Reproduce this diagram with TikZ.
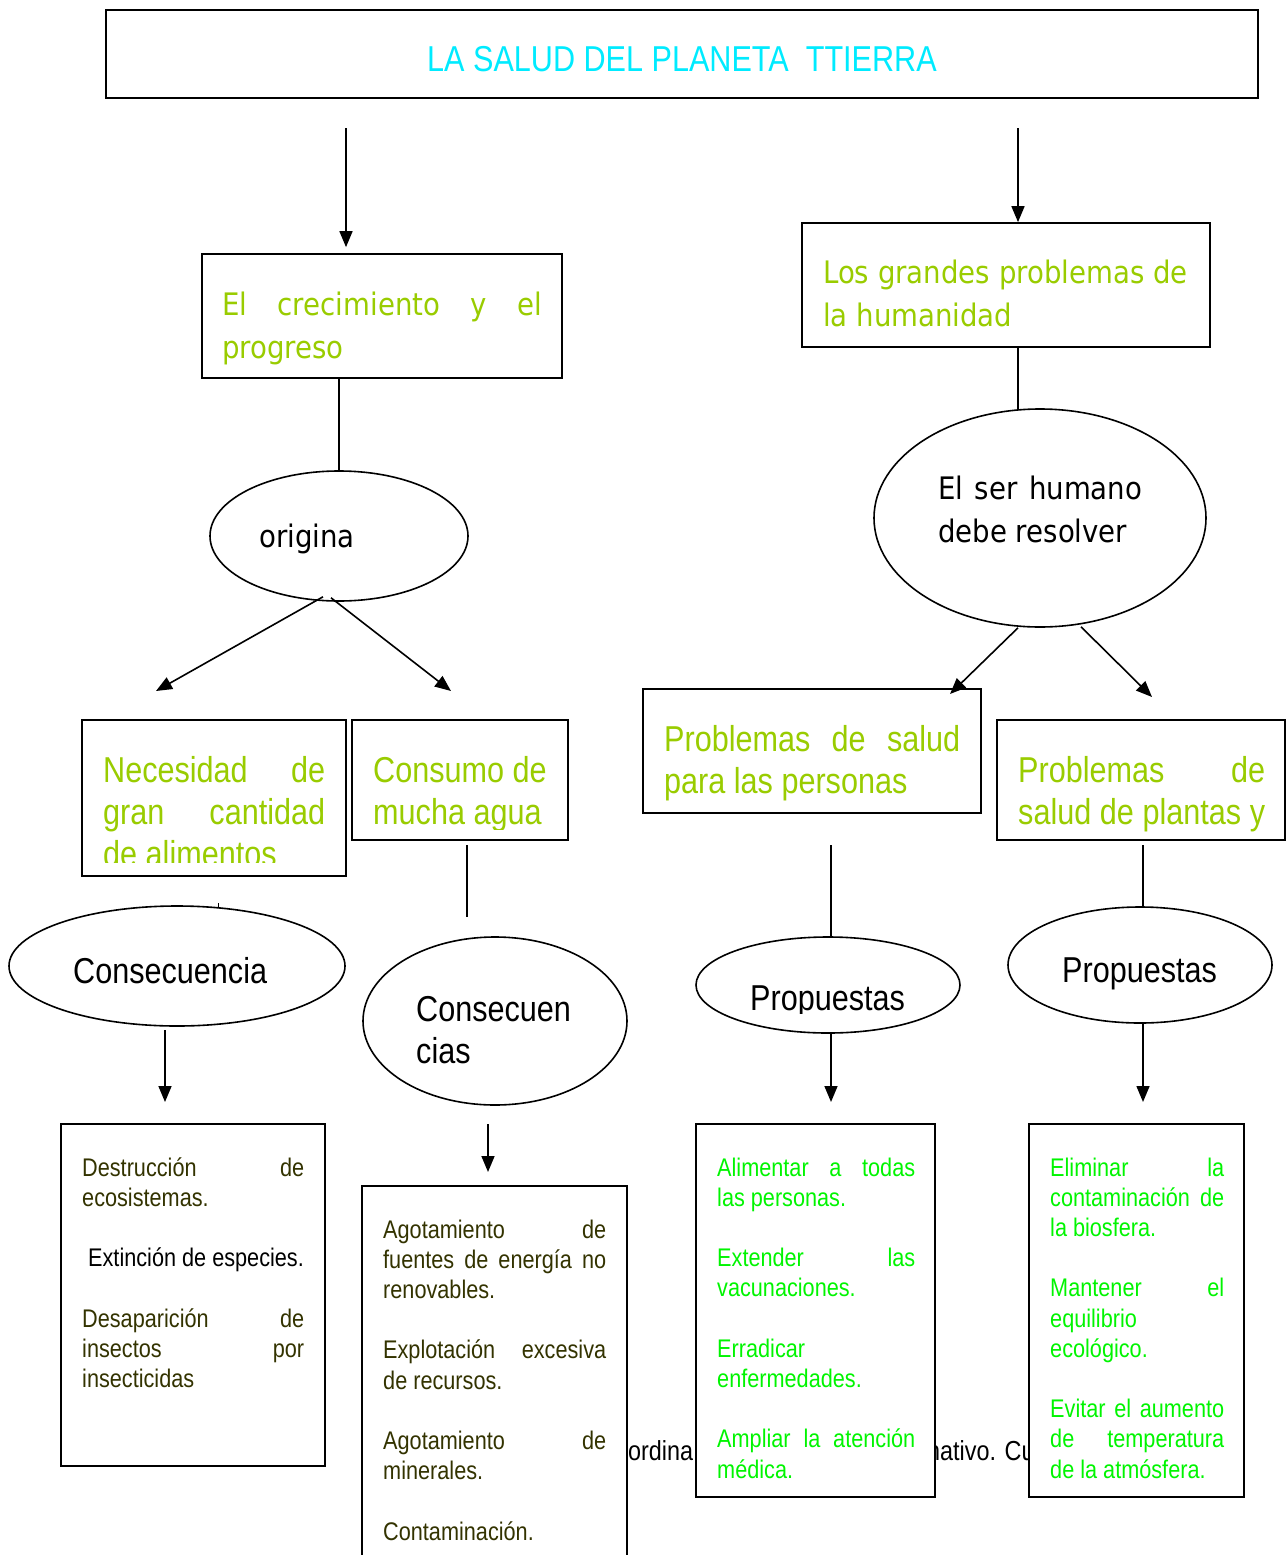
\documentclass[tikz,border=0pt]{standalone}
\usepackage{fontspec}
\usetikzlibrary{shapes.geometric,arrows.meta}
\newfontfamily\nf[FakeStretch=0.85]{Liberation Sans}
\newfontfamily\wf[FakeStretch=0.89]{DejaVu Sans}
\definecolor{ttl}{RGB}{0,235,255}
\definecolor{lime}{RGB}{153,204,0}
\definecolor{brg}{RGB}{0,245,0}
\definecolor{olv}{RGB}{51,51,0}
\newcommand{\jline}[2]{\makebox[#1][s]{#2}}
\newcommand{\bigfont}{\nf\fontsize{36}{42}\selectfont}
\newcommand{\smallfont}{\nf\fontsize{25.5}{30.2}\selectfont}
\newcommand{\bgfont}{\nf\fontsize{27.5}{30}\selectfont}
\newcommand{\widefont}{\wf\fontsize{31}{43}\selectfont}
\begin{document}
\begin{tikzpicture}[x=1pt,y=-1pt,
  bx/.style={draw=black,line width=1.7pt,fill=white,rectangle,inner sep=0pt},
  el/.style={draw=black,line width=1.6pt,fill=white,ellipse,inner sep=0pt},
  txt/.style={anchor=base west,inner sep=0pt,align=left},
  arr/.style={line width=1.6pt,-{Triangle[length=16pt,width=13pt]}},
  ln/.style={line width=1.6pt},
]
\useasboundingbox (0,0) rectangle (1287,1555);
% background text partly hidden by boxes
\node[txt,font=\bgfont] (bgA) at (628,1460) {ordina};
\node[txt,font=\bgfont] (bgB) at (927,1460) {nativo. Cu};

% title
\node[bx,minimum width=1152pt,minimum height=88pt] (title) at (682,54) {};
\node[txt,font=\bigfont,text=ttl] (ttitle) at (427,71) {LA SALUD DEL PLANETA\ \ TTIERRA};

% left branch
\node[bx,minimum width=360pt,minimum height=124pt] (nA) at (382,316) {};
\node[txt,font=\widefont,text=lime] (tA) at (222,315) {\parbox[t]{320pt}{\jline{320pt}{El crecimiento y el}\\progreso}};
\node[el,minimum width=258pt,minimum height=130pt] (orig) at (339,536) {};
\node[txt,font=\widefont] (torig) at (259,547) {origina};

\node[bx,minimum width=264pt,minimum height=156pt] (nNec) at (214,798) {};
\begin{scope}
\clip (82,720) rectangle (346,862);
\node[txt,font=\bigfont,text=lime] (tNec) at (103,782) {\parbox[t]{222pt}{\jline{222pt}{Necesidad de}\\\jline{222pt}{gran cantidad}\\de alimentos}};
\end{scope}
\node[bx,minimum width=216pt,minimum height=120pt] (nCon) at (460,780) {};
\begin{scope}
\clip (352,720) rectangle (568,829);
\node[txt,font=\bigfont,text=lime] (tCon) at (373,782) {\parbox[t]{190pt}{Consumo de\\mucha agua}};
\end{scope}

\node[el,minimum width=336pt,minimum height=120pt] (eC1) at (177,966) {};
\node[txt,font=\bigfont] (teC1) at (73,983) {Consecuencia};
\node[el,minimum width=264pt,minimum height=168pt] (eC2) at (495,1021) {};
\node[txt,font=\bigfont] (teC2) at (416,1021) {\parbox[t]{180pt}{Consecuen\\cias}};

\node[bx,minimum width=264pt,minimum height=342pt] (bx1) at (193,1295) {};
\node[txt,font=\smallfont,text=olv] (tb1) at (82,1176) {\parbox[t]{222pt}{\raggedright
\jline{222pt}{Destrucción de}\\ecosistemas.\\\mbox{}\\\textcolor{black}{\hspace*{6pt}Extinción de especies.}\\\mbox{}\\\jline{222pt}{Desaparición de}\\\jline{222pt}{insectos por}\\insecticidas}};
\node[bx,minimum width=265pt,minimum height=400pt] (bx2) at (494.5,1386) {};
\node[txt,font=\smallfont,text=olv] (tb2) at (383,1238) {\parbox[t]{223pt}{\raggedright
\jline{223pt}{Agotamiento de}\\\jline{223pt}{fuentes de energía no}\\renovables.\\\mbox{}\\\jline{223pt}{Explotación excesiva}\\de recursos.\\\mbox{}\\\jline{223pt}{Agotamiento de}\\minerales.\\\mbox{}\\Contaminación.}};

% right branch
\node[bx,minimum width=408pt,minimum height=124pt] (nB) at (1006,285) {};
\node[txt,font=\widefont,text=lime] (tB) at (823,283) {\parbox[t]{380pt}{Los grandes problemas de\\la humanidad}};
\node[el,minimum width=332pt,minimum height=218pt] (eSer) at (1040,518) {};
\node[txt,font=\widefont] (tSer) at (938,499) {\parbox[t]{204pt}{\jline{204pt}{El ser humano}\\debe resolver}};

\node[bx,minimum width=338pt,minimum height=124pt] (nPP) at (812,751) {};
\node[txt,font=\bigfont,text=lime] (tPP) at (664,751) {\parbox[t]{296pt}{\jline{296pt}{Problemas de salud}\\para las personas}};
\node[bx,minimum width=288pt,minimum height=120pt] (nPl) at (1141,780) {};
\node[txt,font=\bigfont,text=lime] (tPl) at (1018,782) {\parbox[t]{247pt}{\jline{247pt}{Problemas de}\\\jline{247pt}{salud de plantas y}}};

\node[el,minimum width=264pt,minimum height=96pt] (eP1) at (828,985) {};
\begin{scope}
\clip (700,940) rectangle (960,1013);
\node[txt,font=\bigfont] (teP1) at (750,1010) {Propuestas};
\end{scope}
\node[el,minimum width=264pt,minimum height=116pt] (eP2) at (1140,965) {};
\node[txt,font=\bigfont] (teP2) at (1062,982) {Propuestas};

\node[bx,minimum width=239pt,minimum height=373pt] (bx3) at (815.5,1310.5) {};
\node[txt,font=\smallfont,text=brg] (tb3) at (717,1176) {\parbox[t]{198pt}{\raggedright
\jline{198pt}{Alimentar a todas}\\las personas.\\\mbox{}\\\jline{198pt}{Extender las}\\vacunaciones.\\\mbox{}\\Erradicar\\enfermedades.\\\mbox{}\\\jline{198pt}{Ampliar la atención}\\médica.}};
\node[bx,minimum width=215pt,minimum height=373pt] (bx4) at (1136.5,1310.5) {};
\node[txt,font=\smallfont,text=brg] (tb4) at (1050,1176) {\parbox[t]{174pt}{\raggedright
\jline{174pt}{Eliminar la}\\\jline{174pt}{contaminación de}\\la biosfera.\\\mbox{}\\\jline{174pt}{Mantener el}\\equilibrio\\ecológico.\\\mbox{}\\\jline{174pt}{Evitar el aumento}\\\jline{174pt}{de temperatura}\\de la atmósfera.}};

% connectors
\coordinate (sA) at (346,128);
\coordinate (sB) at (1018,128);
\draw[arr,shorten >=6pt] (sA) -- (sA |- nA.north);
\draw[arr] (sB) -- (sB |- nB.north);
\draw[ln] (orig.north |- nA.south) -- (orig.north);
\coordinate (eNec) at (156,691);
\coordinate (eCon) at (451,691);
\draw[arr] ([xshift=-16pt,yshift=5pt]orig.south) -- (eNec);
\draw[arr] ([xshift=-8pt,yshift=4pt]orig.south) -- (eCon);
\coordinate (kS) at (1018,410);
\draw[ln] (kS |- nB.south) -- (kS);
\coordinate (ePP) at (950,694);
\coordinate (ePl) at (1152,697);
\draw[arr] ([xshift=-22pt]eSer.south) -- (ePP);
\draw[arr] ([xshift=41pt,yshift=1pt]eSer.south) -- (ePl);
\coordinate (kC1) at (218,903);
\draw[line width=1pt] (kC1) -- ++(0,5);
\coordinate (kC2) at (467,845);
\draw[ln] (kC2) -- (467,917);
\coordinate (kA) at (165,1030);
\draw[arr] (kA) -- (kA |- 0,1102);
\coordinate (kB) at (488,1124);
\draw[arr] (kB) -- (kB |- 0,1172);
\coordinate (kP1) at (831,845);
\draw[ln] (kP1) -- (kP1 |- eP1.north);
\coordinate (kP2) at (1143,845);
\draw[ln] (kP2) -- (kP2 |- eP2.north);
\draw[arr] (831,1033) -- (831,1102);
\draw[arr] (1143,1024) -- (1143,1102);
\end{tikzpicture}
\end{document}
